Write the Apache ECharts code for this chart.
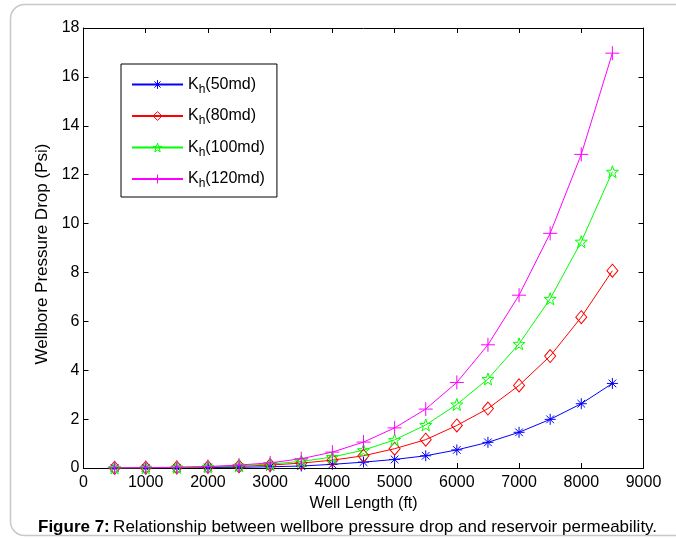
<!DOCTYPE html>
<html>
<head>
<meta charset="utf-8">
<script src="https://cdn.jsdelivr.net/npm/echarts@6/dist/echarts.min.js"></script>
<style>html,body{margin:0;padding:0;background:#fff;}#c{width:676px;height:538px;}</style>
</head>
<body>
<div id="c"></div>
<script>
const wellLength = [500,1000,1500,2000,2500,3000,3500,4000,4500,5000,5500,6000,6500,7000,7500,8000,8500];
const kh50  = [0.002,0.005,0.01,0.02,0.03,0.05,0.08,0.15,0.24,0.35,0.5,0.74,1.05,1.46,1.99,2.63,3.46];
const kh80  = [0.005,0.01,0.02,0.04,0.07,0.12,0.2,0.32,0.5,0.79,1.16,1.74,2.43,3.38,4.58,6.17,8.07];
const kh100 = [0.005,0.01,0.025,0.05,0.09,0.16,0.27,0.45,0.73,1.15,1.76,2.6,3.64,5.08,6.92,9.26,12.12];
const kh120 = [0.006,0.015,0.03,0.06,0.12,0.21,0.38,0.65,1.06,1.64,2.41,3.5,5.04,7.07,9.6,12.83,16.97];
const seriesNames = ['K_h(50md)','K_h(80md)','K_h(100md)','K_h(120md)'];
const seriesColors = ['#0000ff','#ff0000','#00ff00','#ff00ff'];
const xTicks = {min:0, max:9000, interval:1000};
const yTicks = {min:0, max:18, interval:2};

const FONT = "'Liberation Sans', Arial, sans-serif";
const asterisk = 'path://M0,-10L0,10M-10,0L10,0M-7,-7L7,7M-7,7L7,-7';
const plus = 'path://M0,-10L0,10M-10,0L10,0';
const star = 'path://M0,-10L2.35,-3.24L9.51,-3.09L3.8,1.24L5.88,8.09L0,4L-5.88,8.09L-3.8,1.24L-9.51,-3.09L-2.35,-3.24Z';

function mk(name, data, color, symbol, size) {
  return {
    name: name, type: 'line',
    data: wellLength.map((x,i)=>[x,data[i]]),
    color: color,
    symbol: symbol, symbolSize: size,
    showAllSymbol: true,
    lineStyle: {color: color, width: 1},
    itemStyle: {color: 'rgba(255,255,255,0)', borderColor: color, borderWidth: 1},
    emphasis: {disabled: true},
    animation: false,
    z: 3
  };
}

const chart = echarts.init(document.getElementById('c'), null, {renderer:'canvas'});
const axisCommon = {
  axisLine: {show:true, onZero:false, lineStyle:{color:'#000', width:1}},
  axisTick: {show:true, inside:true, length:5, lineStyle:{color:'#000'}},
  splitLine: {show:false},
  axisLabel: {color:'#000', fontSize:16, fontFamily:FONT},
};
chart.setOption({
  backgroundColor: '#fff',
  animation: false,
  textStyle: {fontFamily: FONT},
  grid: {left:83.5, right:32.5, top:28, bottom:70, containLabel:false},
  xAxis: [
    Object.assign({}, axisCommon, {type:'value', position:'bottom', min:xTicks.min, max:xTicks.max, interval:xTicks.interval,
      name:'Well Length (ft)', nameLocation:'middle', nameGap:26,
      nameTextStyle:{color:'#000', fontSize:16, fontFamily:FONT},
      axisLabel:{color:'#000', fontSize:16, fontFamily:FONT, margin:7, formatter: v => String(v)}}),
    Object.assign({}, axisCommon, {type:'value', position:'top', min:xTicks.min, max:xTicks.max, interval:xTicks.interval,
      axisLabel:{show:false}})
  ],
  yAxis: [
    Object.assign({}, axisCommon, {type:'value', position:'left', min:yTicks.min, max:yTicks.max, interval:yTicks.interval,
      name:'Wellbore Pressure Drop (Psi)', nameLocation:'middle', nameGap:32,
      nameTextStyle:{color:'#000', fontSize:17, fontFamily:FONT, padding:[0,12,0,0]},
      axisLabel:{color:'#000', fontSize:16, fontFamily:FONT, margin:4}}),
    Object.assign({}, axisCommon, {type:'value', position:'right', min:yTicks.min, max:yTicks.max, interval:yTicks.interval,
      axisLabel:{show:false}})
  ],
  legend: {
    left: 121, top: 64, orient: 'vertical',
    itemWidth: 51, itemHeight: 11, itemGap: 9.5,
    padding: [9.5, 12, 7, 10],
    borderColor: '#000', borderWidth: 1,
    backgroundColor: '#fff',
    data: seriesNames.map((n,i)=>({name:n, itemStyle:{color:'rgba(255,255,255,0)', borderColor:seriesColors[i], borderWidth:1}})),
    formatter: function(n){ const m = n.match(/^K_h(.*)$/); return '{k|K}{s|h}{k|' + m[1] + '}'; },
    textStyle: {
      color:'#000', fontFamily: FONT, fontSize: 16,
      rich: {
        k: {fontSize:16, fontFamily:FONT, color:'#000', lineHeight:20},
        s: {fontSize:12, fontFamily:FONT, color:'#000', padding:[10,0,0,0], lineHeight:20}
      }
    }
  },
  series: [
    mk(seriesNames[0], kh50, seriesColors[0], asterisk, 11),
    mk(seriesNames[1], kh80, seriesColors[1], 'diamond', [11,13]),
    mk(seriesNames[2], kh100, seriesColors[2], star, 12),
    mk(seriesNames[3], kh120, seriesColors[3], plus, 14)
  ],
  graphic: [
    {type:'rect', shape:{x:10.5, y:4.5, width:720, height:531, r:14}, style:{fill:'none', stroke:'#c8c8c8', lineWidth:1.5}, silent:true, z:-1},
    {type:'text', x: 38, y: 527, style:{
      text:'{b|Figure 7:} {n|Relationship between wellbore pressure drop and reservoir permeability.}',
      verticalAlign:'middle',
      rich:{b:{fontWeight:'bold', fontSize:17, fontFamily:FONT, fill:'#000'},
            n:{fontSize:17, fontFamily:FONT, fill:'#000'}}
    }}
  ]
});
</script>
</body>
</html>
